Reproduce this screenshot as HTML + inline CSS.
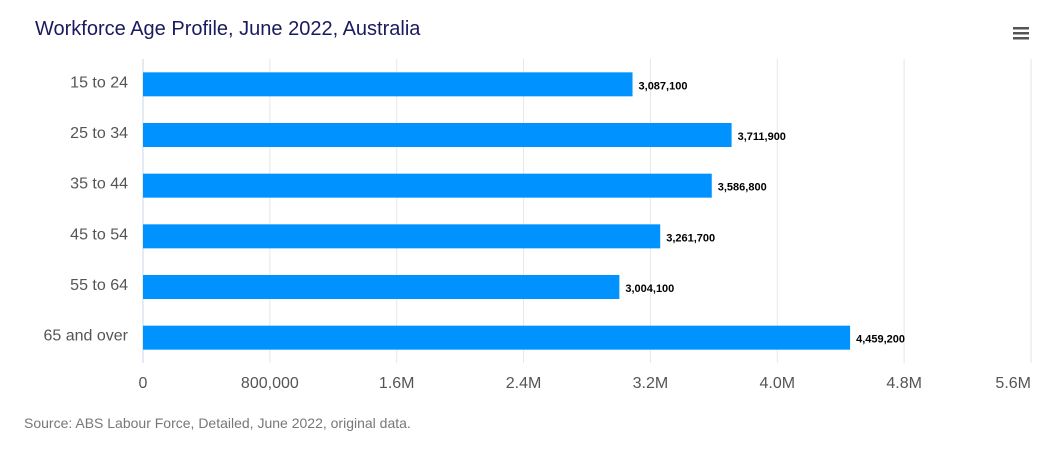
<!DOCTYPE html>
<html><head><meta charset="utf-8"><style>
body{margin:0;background:#fff;width:1064px;height:452px;overflow:hidden;font-family:"Liberation Sans",sans-serif}
</style></head><body>
<svg id="chart" width="1064" height="452">
<text x="35" y="35" font-size="20" fill="#1a1a5e">Workforce Age Profile, June 2022, Australia</text>
<g fill="#555">
<rect x="1013" y="27" width="16" height="2.5"/><rect x="1013" y="32" width="16" height="2.5"/><rect x="1013" y="37" width="16" height="2.5"/>
</g>
<g id="grid"></g><g id="bars"></g><g id="labels"></g><g id="xaxis"></g><g id="yaxis"></g>
<text x="24" y="428" font-size="14" fill="#777">Source: ABS Labour Force, Detailed, June 2022, original data.</text>
</svg>
<script>
const categories=["15 to 24","25 to 34","35 to 44","45 to 54","55 to 64","65 and over"];
const values=[3087100,3711900,3586800,3261700,3004100,4459200];
const tickValues=[0,800000,1600000,2400000,3200000,4000000,4800000,5600000];
const tickLabels=["0","800,000","1.6M","2.4M","3.2M","4.0M","4.8M","5.6M"];
const NS="http://www.w3.org/2000/svg";
const x0=143,x1=1031,yTop=59,yBot=363,xmax=5600000;
const xs=v=>x0+(v/xmax)*(x1-x0);
const band=(yBot-yTop)/categories.length;
function mk(t,a,p){const e=document.createElementNS(NS,t);for(const k in a)e.setAttribute(k,a[k]);p.appendChild(e);return e;}
const grid=document.getElementById('grid'),xa=document.getElementById('xaxis');
tickValues.forEach((v,i)=>{
 const l=mk('line',{x1:xs(v),x2:xs(v),y1:yTop,y2:yBot,stroke:i==0?'#ccd6eb':'#e6e6e6','stroke-width':1},grid);
 
 
 const last=i==tickValues.length-1;
 const t=mk('text',{x:xs(v),y:388,'text-anchor':last?'end':'middle','font-size':16,fill:'#555'},xa);
 t.textContent=tickLabels[i];
 
 
});
const bars=document.getElementById('bars'),lb=document.getElementById('labels'),ya=document.getElementById('yaxis');
categories.forEach((c,i)=>{
 const cy=yTop+band*(i+0.5);
 const r=mk('rect',{x:x0,y:cy-12,width:xs(values[i])-x0,height:24,fill:'#0093ff'},bars);
 
 
 const t=mk('text',{x:xs(values[i])+6,y:cy+5,'font-size':11,fill:'#000','font-weight':'bold'},lb);
 t.textContent=values[i].toLocaleString('en-US');
 
 
 const y=mk('text',{x:128,y:cy+3,'text-anchor':'end','font-size':16,fill:'#555'},ya);
 y.textContent=c;
 
 
});
</script>
</body></html>
